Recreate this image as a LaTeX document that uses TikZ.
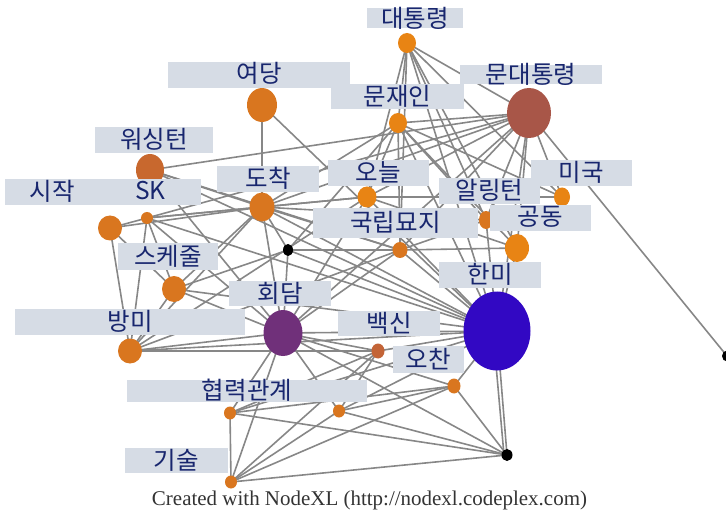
\documentclass[tikz,border=0pt]{standalone}
\usepackage{fontspec}
\newfontfamily\kr{Noto Sans CJK KR}
\setmainfont{Liberation Serif}
\usetikzlibrary{shapes.geometric}
\pgfdeclarelayer{bg}
\pgfdeclarelayer{fg}
\pgfsetlayers{bg,main,fg}
\definecolor{edgec}{RGB}{135,135,135}
\definecolor{boxc}{RGB}{214,220,229}
\definecolor{txtc}{RGB}{24,38,110}
\definecolor{orA}{RGB}{217,118,31}
\definecolor{orB}{RGB}{232,132,20}
\definecolor{orC}{RGB}{200,104,46}
\definecolor{orD}{RGB}{195,100,55}
\definecolor{mdtc}{RGB}{168,86,72}
\definecolor{hdmc}{RGB}{112,48,122}
\definecolor{hmic}{RGB}{50,8,195}
\tikzset{
  vx/.style={ellipse,inner sep=0pt,draw=none,fill=#1},
  lt/.style={inner sep=0pt,text=txtc,font=\kr\fontsize{24.5}{26}\selectfont},
  ed/.style={draw=edgec,line width=1.6pt},
}
\begin{document}
\begin{tikzpicture}[x=1pt,y=-1pt]
\useasboundingbox (0,0) rectangle (726,513);
% vertices
\node[vx=orB,minimum width=18,minimum height=20] (dtr) at (407,43) {};
\node[vx=mdtc,minimum width=44,minimum height=50] (mdt) at (529,113) {};
\node[vx=orB,minimum width=18,minimum height=20] (mji) at (398,123) {};
\node[vx=orA,minimum width=30,minimum height=34] (ydg) at (262,105) {};
\node[vx=orC,minimum width=28,minimum height=32] (wst) at (150,170) {};
\node[vx=orA,minimum width=24,minimum height=25] (sij) at (110,228) {};
\node[vx=orA,minimum width=12,minimum height=12] (sk) at (147,218) {};
\node[vx=orA,minimum width=25,minimum height=29] (doc) at (262,207) {};
\node[vx=orB,minimum width=19,minimum height=21] (onl) at (367,197) {};
\node[vx=orA,minimum width=14,minimum height=18] (alt) at (486,220) {};
\node[vx=orA,minimum width=15,minimum height=16] (gml) at (400,250) {};
\node[vx=orB,minimum width=16,minimum height=19] (mgk) at (562,197) {};
\node[vx=orB,minimum width=24,minimum height=28] (gdg) at (517,248) {};
\node[vx=black,minimum width=10,minimum height=12] (bk1) at (288,250) {};
\node[vx=orA,minimum width=24,minimum height=26] (skj) at (174,289) {};
\node[vx=hdmc,minimum width=39,minimum height=46] (hdm) at (283,333) {};
\node[vx=orA,minimum width=24,minimum height=25] (bmi) at (130,351) {};
\node[vx=hmic,minimum width=67,minimum height=79] (hmi) at (497,331) {};
\node[vx=orD,minimum width=13,minimum height=15] (bks) at (378,351) {};
\node[vx=orA,minimum width=13,minimum height=15] (och) at (454,386) {};
\node[vx=orA,minimum width=12,minimum height=13] (unk) at (339,411) {};
\node[vx=orA,minimum width=12,minimum height=13] (hrg) at (230,413) {};
\node[vx=orA,minimum width=12,minimum height=13] (gs) at (231,482) {};
\node[vx=black,minimum width=11,minimum height=12] (bk2) at (507,455) {};
\node[vx=black,minimum width=10,minimum height=11] (bk3) at (727,356) {};
% edges
\begin{pgfonlayer}{bg}
\foreach \a/\b in {dtr/mji,dtr/onl,dtr/gml,dtr/mdt,dtr/alt,dtr/mgk,dtr/gdg,dtr/hmi,
  mdt/wst,mdt/mji,mdt/onl,mdt/doc,mdt/gml,mdt/alt,mdt/gdg,mdt/mgk,mdt/bk3,mdt/hmi,mdt/hdm,mdt/sk,
  mji/onl,mji/gml,mji/mgk,mji/gdg,mji/alt,mji/hmi,mji/doc,mji/bk1,
  ydg/doc,ydg/hmi,
  wst/doc,wst/hmi,wst/hdm,wst/gml,
  sij/sk,sij/doc,sij/skj,sij/bmi,
  sk/onl,sk/hmi,sk/skj,sk/bmi,sk/hdm,sk/doc,
  doc/onl,doc/hmi,doc/hdm,doc/bmi,doc/skj,doc/gml,doc/bk1,doc/alt,
  onl/hmi,onl/mgk,onl/gdg,onl/hdm,onl/bmi,
  gml/hmi,gml/hdm,gml/alt,gml/gdg,gml/bmi,
  bk1/hdm,bk1/hmi,bk1/skj,bk1/gml,
  skj/hdm,skj/bmi,skj/hmi,
  hdm/hmi,hdm/bmi,hdm/bks,hdm/och,hdm/hrg,hdm/gs,hdm/unk,hdm/bk2,
  bmi/hmi,bmi/bks,
  hmi/bk2,hmi/bks,hmi/och,hmi/unk,hmi/hrg,hmi/gdg,hmi/alt,
  och/bk2,och/unk,och/hrg,
  bks/unk,bks/gs,bks/hrg,
  hrg/gs,hrg/bk2,
  gs/bk2,gs/unk,gs/och,
  unk/bk2}
  \draw[ed] (\a.center) -- (\b.center);
\draw[ed] ([xshift=-4pt]hmi.center) -- ([xshift=-3pt]bk2.center);
\end{pgfonlayer}
% labels
\begin{pgfonlayer}{fg}
\fill[boxc] (367,8) rectangle (463,28);
\fill[boxc] (460,65) rectangle (602,84);
\fill[boxc] (331,84) rectangle (464,109);
\fill[boxc] (168,62) rectangle (350,88);
\fill[boxc] (95,127) rectangle (213,153);
\fill[boxc] (5,179) rectangle (100,205);
\fill[boxc] (100,179) rectangle (201,205);
\fill[boxc] (217,166) rectangle (319,192);
\fill[boxc] (328,160) rectangle (429,186);
\fill[boxc] (439,178) rectangle (540,204);
\fill[boxc] (313,208) rectangle (478,238);
\fill[boxc] (531,160) rectangle (632,186);
\fill[boxc] (490,205) rectangle (591,231);
\fill[boxc] (118,243) rectangle (218,270);
\fill[boxc] (229,281) rectangle (331,306);
\fill[boxc] (15,309) rectangle (245,335);
\fill[boxc] (439,262) rectangle (541,288);
\fill[boxc] (338,311) rectangle (440,336);
\fill[boxc] (393,346) rectangle (464,373);
\fill[boxc] (127,380) rectangle (367,402);
\fill[boxc] (125,448) rectangle (228,473);
\node[lt] (Ldtr) at (415,18) {대통령};
\node[lt] (Lmdt) at (531,74) {문대통령};
\node[lt] (Lmji) at (397.5,96) {문재인};
\node[lt] (Lydg) at (259,73.5) {여당};
\node[lt] (Lwst) at (154,139) {워싱턴};
\node[lt] (Lsij) at (52.5,191) {시작};
\node[lt] (Lsk) at (150.5,191) {SK};
\node[lt] (Ldoc) at (268,178) {도착};
\node[lt] (Lonl) at (378.5,172) {오늘};
\node[lt] (Lalt) at (489.5,190) {알링턴};
\node[lt] (Lgml) at (395.5,222) {국립묘지};
\node[lt] (Lmgk) at (581.5,172) {미국};
\node[lt] (Lgdg) at (540.5,217) {공동};
\node[lt] (Lskj) at (168,256) {스케줄};
\node[lt] (Lhdm) at (280,293) {회담};
\node[lt] (Lbmi) at (130,321) {방미};
\node[lt] (Lhmi) at (490,274) {한미};
\node[lt] (Lbks) at (389,323) {백신};
\node[lt] (Loch) at (428.5,359) {오찬};
\node[lt] (Lhrg) at (247,390) {협력관계};
\node[lt] (Lgs) at (176.5,460) {기술};
\end{pgfonlayer}
\node[text=black!80,inner sep=0pt] (credit) at (369.5,500) {\resizebox{435pt}{!}{Created with NodeXL (http://nodexl.codeplex.com)}};
\end{tikzpicture}
\end{document}
